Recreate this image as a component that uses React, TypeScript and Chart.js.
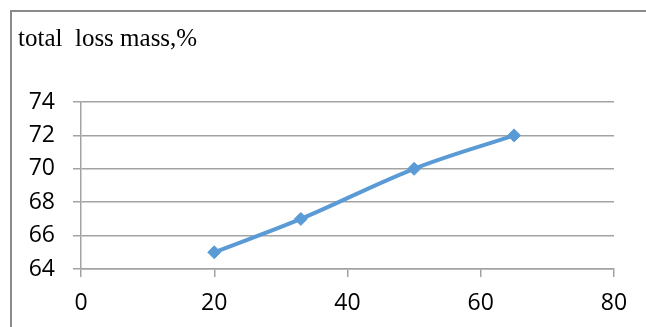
import React, { useEffect, useRef } from "react";
import { Chart, registerables } from "chart.js";

Chart.register(...registerables);

const xValues = [20, 33, 50, 65];
const lossMass = [65, 67, 70, 72];
const titleText = "total  loss mass,%";

const frameBorder = {
  id: "frameBorder",
  beforeDraw(chart: any) {
    const ctx = chart.ctx;
    ctx.save();
    ctx.strokeStyle = "#8a8a8a";
    ctx.lineWidth = 2;
    ctx.beginPath();
    ctx.moveTo(11, chart.height);
    ctx.lineTo(11, 11);
    ctx.lineTo(chart.width, 11);
    ctx.stroke();
    ctx.restore();
  },
};

export default function App() {
  const ref = useRef<HTMLCanvasElement | null>(null);

  useEffect(() => {
    if (!ref.current) return;
    const gridColor = "#a3a3a3";
    const tickFont = { family: "'Open Sans', 'Liberation Sans', sans-serif", size: 23 };
    const chart = new Chart(ref.current, {
      type: "line",
      data: {
        datasets: [
          {
            label: "total loss mass",
            data: xValues.map((x, i) => ({ x, y: lossMass[i] })),
            borderColor: "#5B9BD5",
            backgroundColor: "#5B9BD5",
            borderWidth: 4,
            pointStyle: "rectRot",
            pointRadius: 6.5,
            pointBorderWidth: 1,
            tension: 0.35,
            fill: false,
          },
        ],
      },
      options: {
        responsive: false,
        animation: false,
        events: [],
        layout: { padding: { left: 18, right: 32, top: 0, bottom: 0 } },
        plugins: {
          legend: { display: false },
          tooltip: { enabled: false },
          title: {
            display: true,
            text: titleText,
            align: "start",
            color: "#000",
            font: { family: "'Liberation Serif', 'Times New Roman', serif", size: 25, weight: "normal" },
            padding: { top: 24, bottom: 48 },
          },
        },
        scales: {
          x: {
            type: "linear",
            min: 0,
            max: 80,
            ticks: { stepSize: 20, color: "#000", font: tickFont, padding: 13, maxRotation: 0 },
            grid: { drawOnChartArea: false, drawTicks: true, tickLength: 8, color: gridColor, lineWidth: 1.5 },
            border: { color: gridColor, width: 1.5 },
            afterFit: (s: any) => {
              s.height = 58;
            },
          },
          y: {
            min: 64,
            max: 74,
            ticks: { stepSize: 2, color: "#000", font: tickFont, padding: 18 },
            grid: { drawTicks: true, tickLength: 8, color: gridColor, lineWidth: 1.5 },
            border: { color: gridColor, width: 1.5 },
            afterFit: (s: any) => {
              s.width = 63;
            },
          },
        },
      },
      plugins: [frameBorder],
    });
    return () => chart.destroy();
  }, []);

  return (
    <div
      style={{
        position: "absolute",
        left: 0,
        top: 0,
        width: 646,
        height: 327,
        overflow: "hidden",
        background: "#fff",
      }}
    >
      <canvas ref={ref} width={646} height={327} style={{ position: "absolute", left: 0, top: 0 }} />
    </div>
  );
}
